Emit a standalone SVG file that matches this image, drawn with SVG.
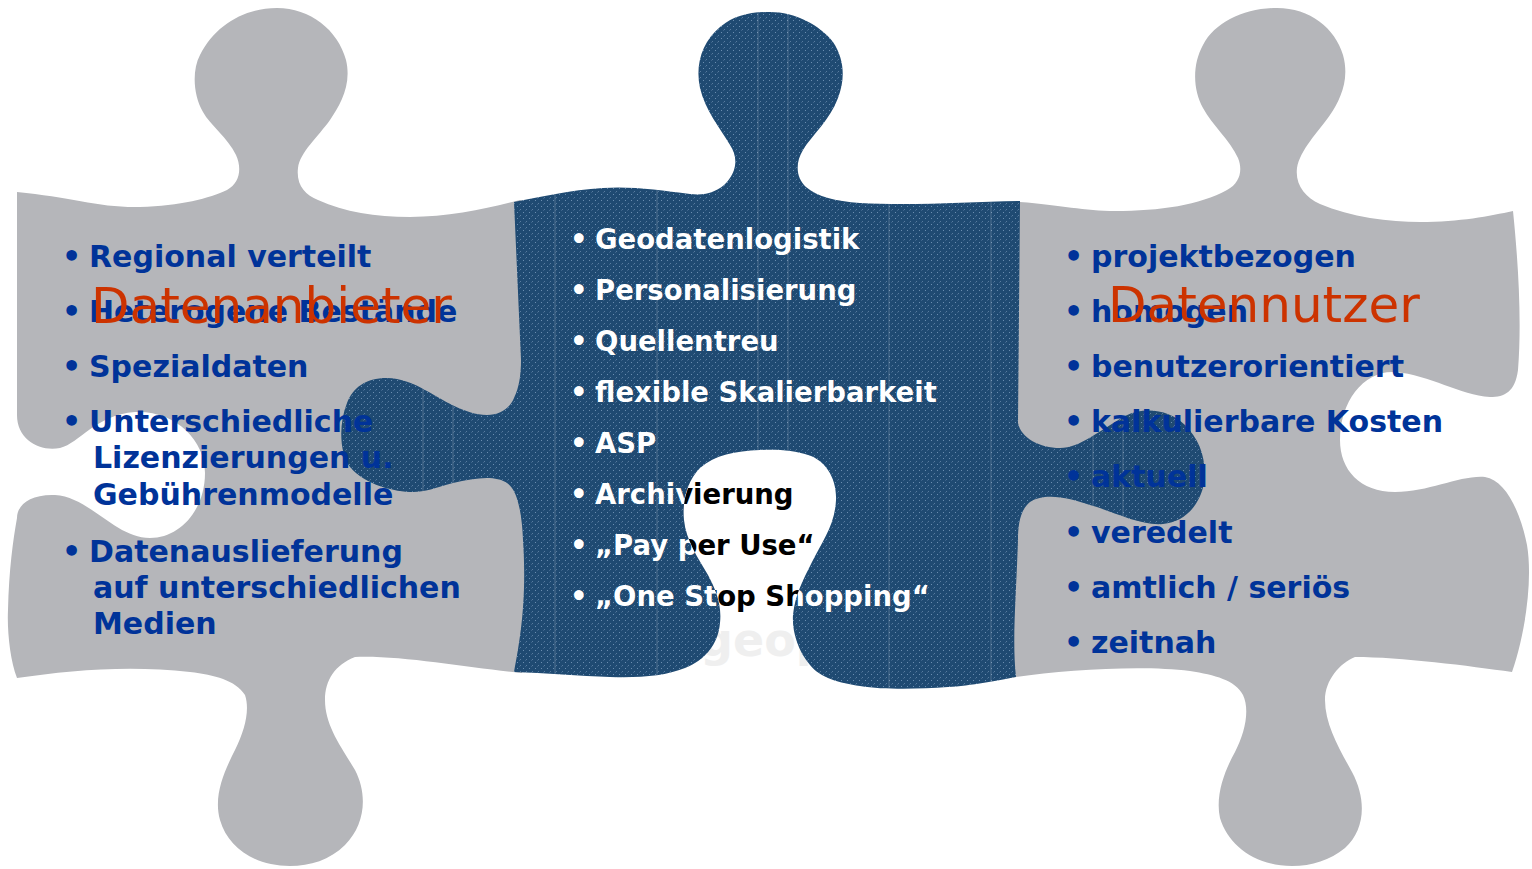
<svg xmlns="http://www.w3.org/2000/svg" xmlns:xlink="http://www.w3.org/1999/xlink" width="1532" height="869" viewBox="0 0 1532 869">
<style>
.gray{fill:#b5b6ba}
.item{font-family:"DejaVu Sans","Verdana",sans-serif;font-weight:bold;font-size:30px;fill:#003399}
.citem{font-family:"DejaVu Sans","Verdana",sans-serif;font-weight:bold;font-size:27.5px}
.title{font-family:"DejaVu Sans","Verdana",sans-serif;font-size:50px;fill:#cc3300}
.vline{stroke:#ffffff;stroke-opacity:0.22;stroke-width:1}
</style>
<defs>
<path id="centerShape" d="M514,202 C540,197 570,190 603,188 C630,186 660,190 690,194 C705,196 718,192 727,182 C737,170 738,157 730,145 C720,128 705,110 700,88 C695,65 702,42 720,27 C735,15 750,12 770,12 C795,12 820,25 833,42 C845,60 845,80 838,98 C830,120 812,135 803,150 C795,163 796,178 806,187 C818,197 835,201 860,203 C910,206 970,202 1020,201 L1018,423 C1021,438 1040,448 1060,448 C1080,448 1100,430 1125,416 C1145,406 1170,410 1185,425 C1200,440 1207,460 1204,483 C1200,505 1185,522 1163,524 C1140,526 1115,512 1090,505 C1070,498 1045,492 1030,502 C1020,510 1018,525 1018,540 C1016,600 1012,640 1016,677 C1000,680 970,686 948,687 C920,689 885,690 860,686 C840,683 820,678 810,665 C797,650 792,630 793,615 C795,595 803,580 812,562 C822,542 835,525 836,500 C837,478 825,460 808,455 C795,450 775,449 760,450 C735,451 715,455 700,468 C688,480 682,500 684,520 C686,540 698,558 708,575 C716,590 722,605 720,623 C718,645 705,660 685,668 C665,676 640,678 610,677 C580,676 545,673 514,672 C520,640 527,600 523,540 C522,515 518,490 507,483 C495,475 475,478 453,483 C435,488 425,492 413,492 C395,492 365,485 350,467 C340,455 338,425 347,403 C353,388 365,378 387,378 C400,378 415,384 425,390 C440,398 465,415 487,415 C500,415 510,408 514,398 C519,388 521,375 521,360 Z"/>
<pattern id="tex" width="6" height="6" patternUnits="userSpaceOnUse">
<rect width="6" height="6" fill="#1f4a72"/>
<rect x="1" y="2" width="1" height="1" fill="#6a8db0"/>
<rect x="4" y="5" width="1" height="1" fill="#587c9f"/>
<rect x="3" y="0" width="1" height="1" fill="#3d638a"/>
</pattern>
<clipPath id="centerClip"><use xlink:href="#centerShape"/></clipPath>
<pattern id="cpaint" x="0" y="0" width="1532" height="869" patternUnits="userSpaceOnUse">
<rect width="1532" height="869" fill="#000000"/>
<use xlink:href="#centerShape" fill="#ffffff"/>
</pattern>
</defs>
<rect width="1532" height="869" fill="#ffffff"/>
<text x="700" y="656" font-family="DejaVu Sans, sans-serif" font-weight="bold" font-size="46" fill="#efefef">geop</text>
<g id="left-piece">
<path class="gray" d="M17,192 C70,197 100,208 140,207 C180,206 210,198 227,190 C240,183 242,168 236,155 C228,138 210,125 203,112 C193,95 192,70 200,55 C215,25 245,8 277,8 C310,8 338,30 346,60 C352,85 340,105 330,120 C318,137 300,152 298,168 C296,185 305,195 318,200 C345,212 375,217 410,217 C450,217 490,208 520,200 L532,210 L532,600 L522,673 C470,668 400,655 355,657 C335,665 325,680 325,700 C325,725 340,745 355,770 C368,795 365,825 345,845 C330,860 310,866 290,866 C255,866 228,848 220,820 C213,795 225,770 235,750 C245,730 250,710 245,695 C235,680 215,675 190,672 C130,665 70,670 17,678 C10,660 7,630 8,610 C9,570 13,540 17,518 C17,505 30,494 55,495 C90,497 115,538 150,538 C180,538 205,510 205,473 C205,440 175,410 135,412 C95,415 80,443 60,448 C40,452 17,440 17,415 Z"/>
</g>
<g id="right-piece">
<path class="gray" d="M1004,206 L1020,202 C1060,205 1085,211 1115,211 C1160,211 1200,205 1227,190 C1240,183 1243,170 1238,158 C1230,140 1212,125 1203,108 C1193,90 1192,65 1203,45 C1215,22 1245,8 1277,8 C1310,8 1335,28 1343,55 C1350,80 1340,100 1330,115 C1318,132 1300,150 1297,168 C1295,185 1305,197 1320,204 C1350,217 1390,222 1420,222 C1460,222 1490,216 1513,211 C1518,260 1522,320 1518,370 C1515,392 1505,397 1490,397 C1460,395 1430,375 1395,372 C1365,370 1340,400 1340,440 C1340,470 1360,492 1395,492 C1430,492 1460,475 1485,477 C1505,480 1520,510 1527,545 C1533,580 1525,635 1512,672 C1470,666 1400,657 1355,657 C1340,663 1325,680 1325,700 C1325,725 1340,750 1352,772 C1367,800 1365,830 1345,848 C1330,860 1312,866 1292,866 C1255,866 1228,845 1220,818 C1215,795 1225,770 1235,752 C1245,733 1250,710 1243,695 C1235,680 1215,675 1190,671 C1140,665 1060,670 1010,678 L1004,676 Z"/>
</g>
<g id="center-piece">
<use xlink:href="#centerShape" fill="url(#tex)"/>
<g clip-path="url(#centerClip)">
<line class="vline" x1="423" y1="0" x2="423" y2="869"/>
<line class="vline" x1="453" y1="0" x2="453" y2="869"/>
<line class="vline" x1="555" y1="0" x2="555" y2="869"/>
<line class="vline" x1="657" y1="0" x2="657" y2="869"/>
<line class="vline" x1="758" y1="0" x2="758" y2="869"/>
<line class="vline" x1="788" y1="0" x2="788" y2="869"/>
<line class="vline" x1="889" y1="0" x2="889" y2="869"/>
<line class="vline" x1="991" y1="0" x2="991" y2="869"/>
<line class="vline" x1="1093" y1="0" x2="1093" y2="869"/>
<line class="vline" x1="1123" y1="0" x2="1123" y2="869"/>
</g>
</g>
<g id="connectors"/>
<g id="left-text" class="item">
<text><tspan x="62" y="267">•</tspan><tspan x="89" y="267">Regional verteilt</tspan></text>
<text><tspan x="62" y="322">•</tspan><tspan x="89" y="322">Heterogene Bestände</tspan></text>
<text><tspan x="62" y="377">•</tspan><tspan x="89" y="377">Spezialdaten</tspan></text>
<text><tspan x="62" y="432">•</tspan><tspan x="89" y="432">Unterschiedliche</tspan></text>
<text x="93" y="468">Lizenzierungen u.</text>
<text x="93" y="505">Gebührenmodelle</text>
<text><tspan x="62" y="562">•</tspan><tspan x="89" y="562">Datenauslieferung</tspan></text>
<text x="93" y="598">auf unterschiedlichen</text>
<text x="93" y="634">Medien</text>
</g>
<g id="right-text" class="item">
<text><tspan x="1064" y="267">•</tspan><tspan x="1091" y="267">projektbezogen</tspan></text>
<text><tspan x="1064" y="322">•</tspan><tspan x="1091" y="322">homogen</tspan></text>
<text><tspan x="1064" y="377">•</tspan><tspan x="1091" y="377">benutzerorientiert</tspan></text>
<text><tspan x="1064" y="432">•</tspan><tspan x="1091" y="432">kalkulierbare Kosten</tspan></text>
<text><tspan x="1064" y="487">•</tspan><tspan x="1091" y="487">aktuell</tspan></text>
<text><tspan x="1064" y="543">•</tspan><tspan x="1091" y="543">veredelt</tspan></text>
<text><tspan x="1064" y="598">•</tspan><tspan x="1091" y="598">amtlich / seriös</tspan></text>
<text><tspan x="1064" y="653">•</tspan><tspan x="1091" y="653">zeitnah</tspan></text>
</g>
<g id="center-text" class="citem" fill="url(#cpaint)">
<text><tspan x="570" y="249">•</tspan><tspan x="595" y="249">Geodatenlogistik</tspan></text>
<text><tspan x="570" y="300">•</tspan><tspan x="595" y="300">Personalisierung</tspan></text>
<text><tspan x="570" y="351">•</tspan><tspan x="595" y="351">Quellentreu</tspan></text>
<text><tspan x="570" y="402">•</tspan><tspan x="595" y="402">flexible Skalierbarkeit</tspan></text>
<text><tspan x="570" y="453">•</tspan><tspan x="595" y="453">ASP</tspan></text>
<text><tspan x="570" y="504">•</tspan><tspan x="595" y="504">Archivierung</tspan></text>
<text><tspan x="570" y="555">•</tspan><tspan x="595" y="555">„Pay per Use“</tspan></text>
<text><tspan x="570" y="606">•</tspan><tspan x="595" y="606">„One Stop Shopping“</tspan></text>
</g>
<g id="titles" class="title">
<text x="91" y="323">Datenanbieter</text>
<text x="1108" y="322">Datennutzer</text>
</g>
</svg>
